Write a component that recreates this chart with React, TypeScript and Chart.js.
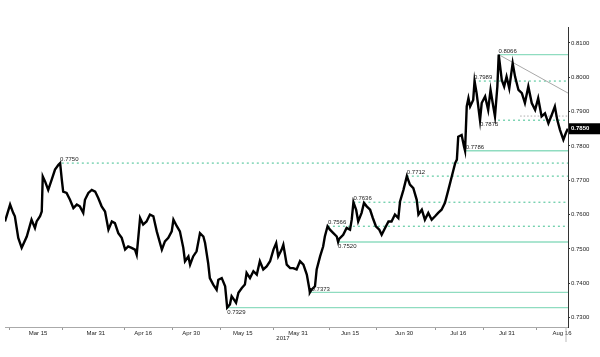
import React, { useEffect, useRef } from "react";
import { Chart, registerables } from "chart.js";

Chart.register(...registerables);

// AUD/USD 2017 — position on the time axis (day of year) and price
const dayOfYear = [
  64.3, 65.8, 66.7, 67.2, 68.2, 69.2, 70.7, 72.1, 73.1, 73.6, 74.6, 75.1, 75.4, 76.1, 77.0, 78.0, 79.0, 80.0, 80.5, 81.0,
  81.4, 82.4, 83.4, 84.4, 85.4, 86.3, 87.3, 87.8, 88.8, 89.8, 90.8, 91.7, 92.7, 93.7, 94.7, 95.7, 96.6, 97.6, 98.6, 99.6,
  100.5, 101.5, 102.5, 103.0, 103.5, 104.0, 104.9, 105.9, 106.9, 107.9, 108.9, 110.4, 111.3, 112.3, 113.3, 113.8, 114.8, 115.7, 116.7, 117.2,
  118.2, 118.7, 119.6, 120.6, 121.6, 122.6, 123.1, 124.0, 124.5, 125.5, 126.5, 127.0, 128.0, 129.0, 129.6, 130.4, 130.9, 131.6, 132.2, 132.9,
  133.9, 134.8, 135.3, 136.3, 137.3, 138.3, 139.2, 140.2, 141.2, 142.2, 143.2, 144.0, 144.6, 145.6, 146.1, 147.1, 148.1, 149.0, 150.0, 151.0,
  152.0, 153.0, 153.7, 153.9, 154.4, 155.4, 155.9, 156.9, 157.8, 158.3, 159.1, 159.8, 160.8, 161.8, 162.2, 162.5, 163.7, 164.7, 165.7, 166.2,
  166.7, 167.5, 168.1, 169.1, 169.8, 170.6, 171.6, 172.4, 173.3, 174.3, 175.0, 176.0, 177.0, 177.9, 178.9, 179.9, 180.4, 181.4, 182.4, 183.3,
  184.3, 185.3, 185.8, 186.8, 187.7, 188.7, 189.7, 190.7, 191.6, 192.6, 193.6, 194.6, 195.6, 196.6, 197.1, 197.5, 198.5, 199.2, 199.5, 200.0,
  200.5, 201.0, 201.9, 202.3, 202.9, 203.9, 204.4, 205.4, 206.3, 207.0, 207.8, 208.3, 209.0, 209.4, 210.3, 211.0, 211.7, 212.5, 213.5, 214.2,
  215.2, 216.2, 217.1, 218.1, 219.1, 220.1, 221.0, 222.0, 223.0, 224.0, 225.0, 225.9, 226.6, 227.4, 228.4, 229.1, 229.7,
];
const price = [
  0.758, 0.7629, 0.7605, 0.7595, 0.7532, 0.7503, 0.7536, 0.7585, 0.7561, 0.758, 0.7595, 0.7609, 0.7711, 0.7696, 0.7672, 0.7701, 0.7731, 0.7745, 0.775, 0.7701,
  0.7667, 0.7663, 0.7643, 0.7619, 0.7629, 0.7624, 0.7605, 0.7643, 0.7663, 0.7672, 0.7667, 0.7648, 0.7624, 0.7609, 0.7556, 0.758, 0.7575, 0.7546, 0.7532, 0.7498,
  0.7507, 0.7503, 0.7498, 0.7483, 0.7536, 0.759, 0.7571, 0.758, 0.76, 0.7595, 0.7551, 0.7498, 0.7522, 0.7532, 0.7551, 0.7585, 0.7566, 0.7551, 0.7503, 0.7464,
  0.7478, 0.7454, 0.7478, 0.7493, 0.7546, 0.7536, 0.7517, 0.7459, 0.7415, 0.7396, 0.7381, 0.741, 0.7415, 0.7391, 0.7329, 0.7338, 0.7362, 0.7352, 0.7343, 0.7372,
  0.7386, 0.7396, 0.743, 0.7415, 0.7435, 0.7425, 0.7464, 0.744, 0.7449, 0.7464, 0.7498, 0.7517, 0.7478, 0.7498, 0.7512, 0.7454, 0.7444, 0.7444, 0.744, 0.7464,
  0.7454, 0.7425, 0.7386, 0.7373, 0.7381, 0.7391, 0.744, 0.7478, 0.7507, 0.7536, 0.7566, 0.7556, 0.7546, 0.7536, 0.752, 0.7529, 0.7541, 0.7561, 0.7556, 0.7585,
  0.7636, 0.7614, 0.758, 0.7605, 0.7634, 0.7624, 0.7614, 0.759, 0.7566, 0.7556, 0.7541, 0.7561, 0.758, 0.758, 0.76, 0.759, 0.7638, 0.7672, 0.7712, 0.7687,
  0.7677, 0.7643, 0.76, 0.7614, 0.7585, 0.7605, 0.7585, 0.7595, 0.7605, 0.7614, 0.7634, 0.7672, 0.7711, 0.775, 0.776, 0.7827, 0.7832, 0.7798, 0.7786, 0.7915,
  0.7939, 0.7915, 0.7934, 0.7989, 0.7954, 0.7875, 0.7925, 0.7944, 0.7905, 0.7963, 0.7915, 0.7886, 0.7973, 0.8066, 0.7992, 0.7973, 0.8002, 0.7968, 0.8041, 0.8002,
  0.7963, 0.7954, 0.7925, 0.7973, 0.7925, 0.7905, 0.7939, 0.7886, 0.7895, 0.7866, 0.7891, 0.7915, 0.7876, 0.7847, 0.7818, 0.7837, 0.785,
];

// Support / resistance levels: value, day the line starts, day the label is placed
const levelValues = [0.775, 0.7712, 0.7636, 0.7566, 0.752, 0.7373, 0.7329, 0.7786, 0.7875, 0.7989, 0.8066];
const levelStartDays = [81.0, 182.4, 166.7, 159.2, 162.2, 153.9, 129.6, 199.5, 209.2, 202.1, 209.3];
const levelLabelDays = [80.5, 182.4, 166.7, 159.2, 162.2, 154.4, 129.6, 199.7, 203.9, 202.1, 209.3];
const levelLabels = ["0.7750", "0.7712", "0.7636", "0.7566", "0.7520", "0.7373", "0.7329", "0.7786", "0.7875", "0.7989", "0.8066"];

// Trend line from the high and a minor reference level
const trendDays = [209.4, 229.76];
const trendValues = [0.8066, 0.7954];
const minorLevelDays = [215.7, 229.76];
const minorLevelValue = 0.7887;

// Axes
const xMin = 64.3;
const xMax = 229.76;
const yMin = 0.72724;
const yMax = 0.81465;
const yTicks = [0.73, 0.74, 0.75, 0.76, 0.77, 0.78, 0.79, 0.8, 0.81];
const xLabelDays = [74, 91.0, 104.9, 119.0, 134.2, 150.4, 165.7, 181.6, 197.5, 211.8, 228.0];
const xLabelTexts = ["Mar 15", "Mar 31", "Apr 16", "Apr 30", "May 15", "May 31", "Jun 15", "Jun 30", "Jul 16", "Jul 31", "Aug 16"];
const xMinorDays = [65.5, 81.1, 99.3, 113.4, 127.5, 143.1, 159.8, 173.6, 190.7, 204.8, 220.4];
const yearLabel = "2017";
const yearLabelDay = 146.0;

const FONT = "'Liberation Sans', Arial, sans-serif";
const SOLID_GREEN = "#8fdcc0";
const DASH_GREEN = "#3fbf8f";

export default function App() {
  const ref = useRef<HTMLCanvasElement | null>(null);

  useEffect(() => {
    if (!ref.current) return;
    const solidLevels = new Set([0.752, 0.7373, 0.7329, 0.7786, 0.8066]);
    const belowLabels = new Set([0.752, 0.7329, 0.7875]);

    const levelDatasets = levelValues.map((v, i) => {
      const solid = solidLevels.has(v);
      return {
        data: [
          { x: levelStartDays[i], y: v },
          { x: xMax, y: v },
        ],
        borderColor: solid ? SOLID_GREEN : DASH_GREEN,
        borderWidth: solid ? 1.3 : 1,
        borderDash: solid ? [] : [2, 3],
        pointRadius: 0,
        tension: 0,
      };
    });

    const allXTicks = [...xLabelDays, ...xMinorDays].sort((a, b) => a - b);
    const labelFor = (v: number) => {
      const i = xLabelDays.findIndex((d) => Math.abs(d - v) < 1e-6);
      return i >= 0 ? xLabelTexts[i] : "";
    };

    const annotPlugin = {
      id: "annot",
      afterDatasetsDraw(chart: any) {
        const { ctx, scales, chartArea } = chart;
        const xs = scales.x;
        const ys = scales.y;
        ctx.save();
        ctx.font = `6px ${FONT}`;
        ctx.fillStyle = "#222";
        ctx.textAlign = "left";
        ctx.textBaseline = "middle";
        levelValues.forEach((v, i) => {
          const px = xs.getPixelForValue(levelLabelDays[i]);
          const py = ys.getPixelForValue(v);
          const off = belowLabels.has(v) ? 4.5 : -3.5;
          ctx.fillText(levelLabels[i], px, py + off);
        });
        // year label
        ctx.textAlign = "center";
        ctx.fillText(yearLabel, xs.getPixelForValue(yearLabelDay), chartArea.bottom + 11);
        // last value tag
        const last = price[price.length - 1];
        const ly = ys.getPixelForValue(last);
        ctx.fillStyle = "#000";
        ctx.fillRect(chartArea.right + 1, ly - 5.5, 31, 11);
        ctx.fillStyle = "#fff";
        ctx.textAlign = "left";
        ctx.font = `bold 6px ${FONT}`;
        ctx.fillText(last.toFixed(4), chartArea.right + 3, ly);
        // axis extension below
        ctx.strokeStyle = "#bbb";
        ctx.lineWidth = 1;
        ctx.beginPath();
        ctx.moveTo(chartArea.right - 2, chartArea.bottom);
        ctx.lineTo(chartArea.right - 2, chartArea.bottom + 15);
        ctx.stroke();
        ctx.restore();
      },
    };

    const chart = new Chart(ref.current, {
      type: "line",
      data: {
        datasets: [
          {
            data: dayOfYear.map((d, i) => ({ x: d, y: price[i] })),
            borderColor: "#000",
            borderWidth: 2.4,
            pointRadius: 0,
            tension: 0,
          },
          {
            data: trendDays.map((d, i) => ({ x: d, y: trendValues[i] })),
            borderColor: "#a8a8a8",
            borderWidth: 1,
            pointRadius: 0,
          },
          {
            data: minorLevelDays.map((d) => ({ x: d, y: minorLevelValue })),
            borderColor: "#aaaaaa",
            borderWidth: 1,
            borderDash: [1.5, 2],
            pointRadius: 0,
          },
          ...levelDatasets,
        ] as any,
      },
      options: {
        responsive: false,
        animation: false,
        devicePixelRatio: 1,
        layout: { padding: { top: 27, left: 5, right: 0, bottom: 0 } },
        plugins: { legend: { display: false }, tooltip: { enabled: false } },
        scales: {
          x: {
            type: "linear",
            position: "bottom",
            min: xMin,
            max: xMax,
            afterBuildTicks: (scale: any) => {
              scale.ticks = allXTicks.map((v) => ({ value: v }));
            },
            afterFit: (scale: any) => {
              scale.height = 30;
            },
            ticks: {
              autoSkip: false,
              maxRotation: 0,
              padding: 0,
              font: { family: FONT, size: 6 },
              color: "#222",
              callback: (v: any) => labelFor(Number(v)),
            },
            grid: {
              drawOnChartArea: false,
              tickLength: 3,
              tickColor: (c: any) => (c.tick && labelFor(c.tick.value) ? "rgba(0,0,0,0)" : "#999"),
            },
            border: { color: "#aaa", width: 1 },
          },
          y: {
            type: "linear",
            position: "right",
            min: yMin,
            max: yMax,
            afterBuildTicks: (scale: any) => {
              scale.ticks = yTicks.map((v) => ({ value: v }));
            },
            afterFit: (scale: any) => {
              scale.width = 32;
            },
            ticks: {
              padding: 1,
              font: { family: FONT, size: 6 },
              color: "#222",
              callback: (v: any) => Number(v).toFixed(4),
            },
            grid: { drawOnChartArea: false, tickLength: 2, tickColor: "#333" },
            border: { color: "#333", width: 1 },
          },
        },
      },
      plugins: [annotPlugin],
    });
    return () => chart.destroy();
  }, []);

  return (
    <div style={{ position: "fixed", left: 0, top: 0, width: 600, height: 357, background: "#fff" }}>
      <canvas ref={ref} width={600} height={357} />
    </div>
  );
}
